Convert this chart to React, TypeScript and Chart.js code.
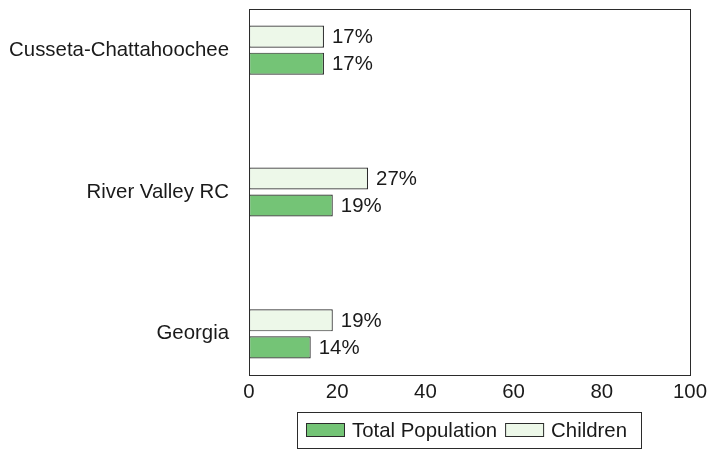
import React, { useEffect, useRef } from 'react';
import { Chart, registerables } from 'chart.js';

Chart.register(...registerables);

const categories = ['Cusseta-Chattahoochee', 'River Valley RC', 'Georgia'];
const totalPopulation = [17, 19, 14];
const children = [17, 27, 19];
const seriesLabels = ['Total Population', 'Children'];
const seriesColors = ['#74c476', '#edf8e9'];
const xMin = 0;
const xMax = 100;
const xStep = 20;

const FONT_FAMILY = '"Liberation Sans", Arial, sans-serif';
const FONT_SIZE = 20.4;
const TEXT_COLOR = '#1a1a1a';
const LINE_COLOR = '#2b2b2b';

const framePlugin = {
  id: 'frame',
  afterDraw(chart: any) {
    const { ctx, chartArea } = chart;
    ctx.save();
    ctx.strokeStyle = LINE_COLOR;
    ctx.lineWidth = 1;
    ctx.strokeRect(
      Math.round(chartArea.left) + 0.5,
      Math.round(chartArea.top) + 0.5,
      Math.round(chartArea.right - chartArea.left),
      Math.round(chartArea.bottom - chartArea.top)
    );
    ctx.restore();
  },
};

const valueLabelPlugin = {
  id: 'valueLabels',
  afterDatasetsDraw(chart: any) {
    const { ctx } = chart;
    ctx.save();
    ctx.font = `${FONT_SIZE}px ${FONT_FAMILY}`;
    ctx.fillStyle = TEXT_COLOR;
    ctx.textAlign = 'left';
    ctx.textBaseline = 'middle';
    chart.data.datasets.forEach((ds: any, di: number) => {
      const meta = chart.getDatasetMeta(di);
      meta.data.forEach((el: any, i: number) => {
        const v = ds.data[i].x;
        ctx.fillText(`${v}%`, el.x + 8, el.y + 1);
      });
    });
    ctx.restore();
  },
};

const legendPlugin = {
  id: 'boxLegend',
  afterDraw(chart: any) {
    const { ctx, chartArea } = chart;
    ctx.save();
    ctx.font = `${FONT_SIZE}px ${FONT_FAMILY}`;
    const swW = 39;
    const swH = 14;
    const padL = 9;
    const padR = 14;
    const gap = 7;
    const itemGap = 8;
    const items = seriesLabels.map((label, i) => ({
      label,
      color: seriesColors[i],
      w: ctx.measureText(label).width,
    }));
    let total = padL;
    items.forEach((it, i) => {
      total += swW + gap + it.w + (i < items.length - 1 ? itemGap : padR);
    });
    const cx = (chartArea.left + chartArea.right) / 2;
    const left = Math.round(cx - total / 2);
    const top = Math.round(chartArea.bottom) + 37;
    const height = 36;
    ctx.strokeStyle = LINE_COLOR;
    ctx.lineWidth = 1;
    ctx.strokeRect(left + 0.5, top + 0.5, Math.round(total), height);
    let x = left + padL;
    const midY = top + 18;
    items.forEach((it) => {
      ctx.fillStyle = it.color;
      ctx.fillRect(x, midY - swH / 2, swW, swH);
      ctx.strokeStyle = LINE_COLOR;
      ctx.strokeRect(x + 0.5, midY - swH / 2 + 0.5, swW - 1, swH - 1);
      x += swW + gap;
      ctx.fillStyle = TEXT_COLOR;
      ctx.textAlign = 'left';
      ctx.textBaseline = 'middle';
      ctx.fillText(it.label, x, midY + 1);
      x += it.w + itemGap;
    });
    ctx.restore();
  },
};

export default function App() {
  const canvasRef = useRef<HTMLCanvasElement | null>(null);

  useEffect(() => {
    if (!canvasRef.current) return;
    const chart = new Chart(canvasRef.current, {
      type: 'bar',
      data: {
        datasets: [
          {
            label: seriesLabels[1],
            data: categories.map((_, i) => ({ x: children[i], y: i })),
            backgroundColor: seriesColors[1],
            borderColor: LINE_COLOR,
            borderWidth: 1.2,
            borderSkipped: false,
          },
          {
            label: seriesLabels[0],
            data: categories.map((_, i) => ({ x: totalPopulation[i], y: i })),
            backgroundColor: seriesColors[0],
            borderColor: LINE_COLOR,
            borderWidth: 1.2,
            borderSkipped: false,
          },
        ],
      },
      options: {
        indexAxis: 'y',
        animation: false,
        responsive: true,
        maintainAspectRatio: false,
        datasets: {
          bar: {
            categoryPercentage: 0.381,
            barPercentage: 0.815,
          },
        },
        layout: { padding: { top: 9, right: 35, bottom: 0, left: 0 } },
        plugins: {
          legend: { display: false },
          tooltip: { enabled: false },
        },
        scales: {
          x: {
            type: 'linear',
            position: 'bottom',
            min: xMin,
            max: xMax,
            offset: false,
            grid: { display: false, drawTicks: false, tickLength: 0 },
            border: { display: true, color: LINE_COLOR },
            ticks: {
              stepSize: xStep,
              padding: 5,
              color: TEXT_COLOR,
              font: { family: FONT_FAMILY, size: FONT_SIZE },
            },
            afterFit(scale: any) {
              scale.height = 74;
            },
          },
          y: {
            type: 'linear',
            reverse: true,
            offset: false,
            min: -0.29,
            max: categories.length - 1 + 0.29,
            grid: { display: false, drawTicks: false, tickLength: 0 },
            border: { display: true, color: LINE_COLOR },
            afterBuildTicks(scale: any) {
              scale.ticks = categories.map((_, i) => ({ value: i }));
            },
            ticks: {
              padding: 20,
              color: TEXT_COLOR,
              font: { family: FONT_FAMILY, size: FONT_SIZE },
              callback: (v: any) => categories[v as number] ?? '',
            },
            afterFit(scale: any) {
              scale.width = 249;
              scale.paddingTop = 0;
              scale.paddingBottom = 0;
            },
          },
        },
      } as any,
      plugins: [framePlugin, valueLabelPlugin, legendPlugin],
    });
    return () => chart.destroy();
  }, []);

  return (
    <div style={{ position: 'fixed', left: 0, top: 0, width: 725, height: 449, background: '#fff' }}>
      <canvas ref={canvasRef} />
    </div>
  );
}
